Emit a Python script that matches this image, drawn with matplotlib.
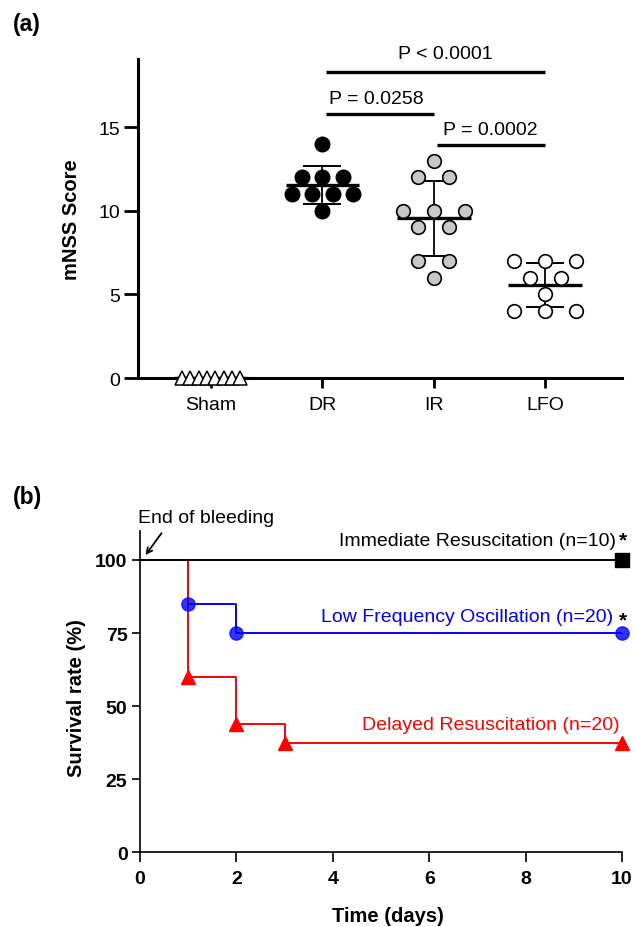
import numpy as np
import matplotlib
matplotlib.use("Agg")
import matplotlib.pyplot as plt

plt.rcParams['font.family'] = ['Liberation Sans', 'DejaVu Sans']

# ---------------- Panel (a) data ----------------
groups = ["Sham", "DR", "IR", "LFO"]
sham_scores = [0, 0, 0, 0, 0, 0, 0, 0]
dr_scores = [14, 12, 12, 12, 11, 11, 11, 11, 10]
ir_scores = [13, 12, 12, 10, 10, 10, 9, 9, 7, 7, 6]
lfo_scores = [7, 7, 7, 6, 6, 5, 4, 4, 4]
p_labels = ["P < 0.0001", "P = 0.0258", "P = 0.0002"]
p_pairs = [(2, 4), (2, 3), (3, 4)]

# ---------------- Panel (b) data ----------------
ir_days = [0, 10]
ir_surv = [100, 100]
lfo_days = [0, 1, 2, 10]
lfo_surv = [100, 85, 75, 75]
dr_days = [0, 1, 2, 3, 10]
dr_surv = [100, 60, 43.75, 37.5, 37.5]
x_ticks_b = [0, 2, 4, 6, 8, 10]
y_ticks_b = [0, 25, 50, 75, 100]
y_ticks_a = [0, 5, 10, 15]

W, H = 634, 928
fig = plt.figure(figsize=(W / 100, H / 100), dpi=100)


def offsets(vals, spacing):
    vals = np.asarray(vals, dtype=float)
    off = np.zeros(len(vals))
    for v in np.unique(vals):
        idx = np.where(vals == v)[0]
        n = len(idx)
        off[idx] = (np.arange(n) - (n - 1) / 2) * spacing
    return off


# ================= Panel (a) =================
axa = fig.add_axes([138 / W, 1 - 379 / H, (622 - 138) / W, (379 - 60) / H])
axa.set_xlim(0.344, 4.69)
axa.set_ylim(0, 19.07)
for s in ["top", "right"]:
    axa.spines[s].set_visible(False)
axa.spines["left"].set_linewidth(2.2)
axa.spines["bottom"].set_linewidth(2.2)

data_a = [sham_scores, dr_scores, ir_scores, lfo_scores]
spacings = [0.075, 0.185, 0.28, 0.28]
styles = [
    dict(marker="^", ms=9.5, mfc="white", mec="black", mew=1.1),
    dict(marker="o", ms=10.5, mfc="black", mec="black", mew=1.0),
    dict(marker="o", ms=9.8, mfc="#c8c8c8", mec="black", mew=1.2),
    dict(marker="o", ms=9.8, mfc="white", mec="black", mew=1.2),
]
for i, (vals, sp, st) in enumerate(zip(data_a, spacings, styles)):
    pos = i + 1
    vals = np.asarray(vals, dtype=float)
    m = vals.mean()
    sd = vals.std(ddof=1)
    axa.hlines(m, pos - 0.33, pos + 0.33, color="black", lw=2.4, zorder=3)
    if sd > 0:
        axa.vlines(pos, m - sd, m + sd, color="black", lw=1.3, zorder=3)
        axa.hlines([m - sd, m + sd], pos - 0.17, pos + 0.17, color="black", lw=1.4, zorder=3)
    axa.plot(pos + offsets(vals, sp), vals, linestyle="none", zorder=4,
             clip_on=False, **st)

axa.set_xticks([1, 2, 3, 4])
axa.set_xticklabels(groups, fontsize=14)
axa.set_yticks(y_ticks_a)
axa.set_yticklabels([str(t) for t in y_ticks_a], fontsize=14)
axa.tick_params(axis="y", length=10, width=2.0, pad=3)
axa.tick_params(axis="x", length=7, width=2.0, pad=6)
axa.set_ylabel("mNSS Score", fontsize=14.5, fontweight="bold")
axa.yaxis.set_label_coords(-0.118, 0.5)

line_y = [18.27, 15.78, 13.94]
text_y = [19.37, 16.68, 14.88]
text_x = [3.10, 2.48, 3.51]
for lab, (a, b), ly, ty, tx in zip(p_labels, p_pairs, line_y, text_y, text_x):
    axa.plot([a + 0.03, b], [ly, ly], color="black", lw=2.4, clip_on=False,
             solid_capstyle="butt")
    axa.text(tx, ty, lab, ha="center", va="center", fontsize=14, clip_on=False)

# ================= Panel (b) =================
axb = fig.add_axes([140 / W, 1 - 853.3 / H, 482 / W, 321.6 / H])
axb.set_xlim(0, 10)
axb.set_ylim(0, 110)
for s in ["top", "right"]:
    axb.spines[s].set_visible(False)
axb.spines["left"].set_linewidth(1.2)
axb.spines["bottom"].set_linewidth(1.2)

axb.step(lfo_days, lfo_surv, where="post", color="#0000ff", lw=1.4, zorder=3)
axb.plot(lfo_days[1:], lfo_surv[1:], "o", color="#0000ff", ms=9.5,
         clip_on=False, zorder=4, alpha=0.8)
axb.step(dr_days, dr_surv, where="post", color="#ff0000", lw=1.4, zorder=3)
axb.plot(dr_days[1:], dr_surv[1:], "^", color="#ff0000", ms=9.5,
         clip_on=False, zorder=4)
axb.step(ir_days, ir_surv, where="post", color="black", lw=1.4, zorder=3,
         clip_on=False)
axb.plot(ir_days[1:], ir_surv[1:], "s", color="black", ms=9.5,
         clip_on=False, zorder=4)

axb.set_xticks(x_ticks_b)
axb.set_xticklabels([str(t) for t in x_ticks_b], fontsize=14, fontweight="bold")
axb.set_yticks(y_ticks_b)
axb.set_yticklabels([str(t) for t in y_ticks_b], fontsize=14, fontweight="bold")
axb.tick_params(axis="y", length=6, width=1.2, pad=3)
axb.tick_params(axis="x", length=7, width=1.2, pad=6)
axb.set_ylabel("Survival rate (%)", fontsize=14.5, fontweight="bold")
axb.yaxis.set_label_coords(-0.112, 0.484)
axb.set_xlabel("Time (days)", fontsize=14.5, fontweight="bold")
axb.xaxis.set_label_coords(0.515, -0.167)

axb.text(9.88, 106.5, "Immediate Resuscitation (n=10)", ha="right", va="center",
         fontsize=14, color="black", clip_on=False)
axb.text(10.03, 106.8, "*", ha="center", va="center", fontsize=15,
         fontweight="bold", color="black", clip_on=False)
axb.text(9.81, 80.8, "Low Frequency Oscillation (n=20)", ha="right", va="center",
         fontsize=14, color="#0000ff", clip_on=False)
axb.text(10.03, 79.6, "*", ha="center", va="center", fontsize=15,
         fontweight="bold", color="black", clip_on=False)
axb.text(9.96, 43.8, "Delayed Resuscitation (n=20)", ha="right", va="center",
         fontsize=14, color="#ff0000", clip_on=False)

axb.text(-0.04, 114.6, "End of bleeding", ha="left", va="center",
         fontsize=14, clip_on=False)
axb.annotate("", xy=(0.08, 100.9), xytext=(0.48, 109.9),
             arrowprops=dict(arrowstyle="->", color="black", lw=1.3),
             annotation_clip=False)

fig.text(13 / W, 1 - 25 / H, "(a)", fontsize=16.5, fontweight="bold", va="center")
fig.text(13 / W, 1 - 498 / H, "(b)", fontsize=16.5, fontweight="bold", va="center")

fig.savefig("out.png", dpi=100)
